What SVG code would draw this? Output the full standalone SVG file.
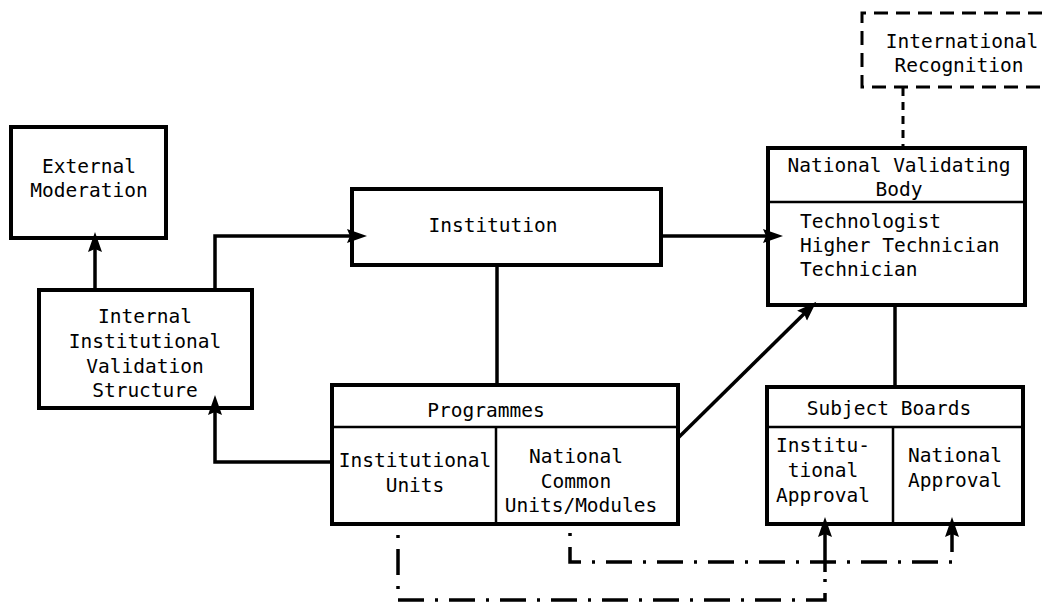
<svg xmlns="http://www.w3.org/2000/svg" width="1044" height="606" viewBox="0 0 1044 606">
  <style>
    .box { fill: #fff; stroke: #000; stroke-width: 4; }
    .div { fill: none; stroke: #000; stroke-width: 2.5; }
    .ln { fill: none; stroke: #000; stroke-width: 3.5; }
    .dash { fill: none; stroke: #000; stroke-width: 3; stroke-dasharray: 14 8; }
    .dd { fill: none; stroke: #000; stroke-width: 3.5; stroke-dasharray: 3 11 26 11; }
    text { font-family: "DejaVu Sans Mono", "Liberation Mono", monospace; font-size: 19.5px; fill: #000; }
    .c { text-anchor: middle; }
  </style>
  <defs>
    <marker id="arrow" markerUnits="userSpaceOnUse" markerWidth="22" markerHeight="16" refX="14" refY="7" orient="auto">
      <path d="M0,0 L20,7 L0,14 L3,7 z" fill="#000"/>
    </marker>
  </defs>

  <g id="external-moderation">
    <rect class="box" x="11" y="127" width="155" height="111"/>
    <text class="c" x="89" y="173">External</text>
    <text class="c" x="89" y="197">Moderation</text>
  </g>

  <g id="internal-validation">
    <rect class="box" x="39" y="290" width="213" height="118"/>
    <text class="c" x="145" y="323">Internal</text>
    <text class="c" x="145" y="348">Institutional</text>
    <text class="c" x="145" y="373">Validation</text>
    <text class="c" x="145" y="397">Structure</text>
  </g>

  <g id="institution">
    <rect class="box" x="352" y="189" width="309" height="76"/>
    <text class="c" x="493" y="232">Institution</text>
  </g>

  <g id="programmes">
    <rect class="box" x="332" y="385" width="346" height="139"/>
    <line class="div" x1="332" y1="427" x2="678" y2="427"/>
    <line class="div" x1="496" y1="427" x2="496" y2="524"/>
    <text class="c" x="486" y="417">Programmes</text>
    <text class="c" x="415" y="467">Institutional</text>
    <text class="c" x="415" y="492">Units</text>
    <text class="c" x="576" y="463">National</text>
    <text class="c" x="576" y="488">Common</text>
    <text class="c" x="581" y="512">Units/Modules</text>
  </g>

  <g id="national-validating-body">
    <rect class="box" x="768" y="148" width="257" height="157"/>
    <line class="div" x1="768" y1="202" x2="1025" y2="202"/>
    <text class="c" x="899" y="172">National Validating</text>
    <text class="c" x="899" y="196">Body</text>
    <text x="800" y="228">Technologist</text>
    <text x="800" y="252">Higher Technician</text>
    <text x="800" y="276">Technician</text>
  </g>

  <g id="international-recognition">
    <path class="dash" d="M1042,13 H862 V87 H1042"/>
    <text class="c" x="962" y="48">International</text>
    <text class="c" x="959" y="72">Recognition</text>
  </g>

  <g id="subject-boards">
    <rect class="box" x="767" y="387" width="256" height="137"/>
    <line class="div" x1="767" y1="427" x2="1023" y2="427"/>
    <line class="div" x1="893" y1="427" x2="893" y2="524"/>
    <text class="c" x="889" y="415">Subject Boards</text>
    <text class="c" x="823" y="452">Institu-</text>
    <text class="c" x="823" y="477">tional</text>
    <text class="c" x="823" y="502">Approval</text>
    <text class="c" x="955" y="462">National</text>
    <text class="c" x="955" y="487">Approval</text>
  </g>

  <!-- connectors, drawn last so arrowheads sit over the box borders -->
  <g id="connectors">
    <!-- internal validation -> external moderation -->
    <line class="ln" x1="95" y1="290" x2="95" y2="238" marker-end="url(#arrow)"/>
    <!-- internal validation -> institution -->
    <path class="ln" d="M215,290 V236 H361" marker-end="url(#arrow)"/>
    <!-- institution -> national validating body -->
    <line class="ln" x1="661" y1="236" x2="777" y2="236" marker-end="url(#arrow)"/>
    <!-- institution - programmes -->
    <line class="ln" x1="497" y1="265" x2="497" y2="385"/>
    <!-- institutional units -> internal validation -->
    <path class="ln" d="M332,462 H215 V401" marker-end="url(#arrow)"/>
    <!-- national common units -> national validating body -->
    <line class="ln" x1="678" y1="438" x2="812" y2="306" marker-end="url(#arrow)"/>
    <!-- national validating body - subject boards -->
    <line class="ln" x1="895" y1="305" x2="895" y2="387"/>
    <!-- national validating body - international recognition -->
    <line class="dash" x1="903" y1="88" x2="903" y2="148" style="stroke-dasharray: 8 6;"/>
    <!-- approval routes (dash-dot) -->
    <path class="dd" d="M398,535 V600 H825 V572"/>
    <line class="ln" x1="825" y1="572" x2="825" y2="523" marker-end="url(#arrow)"/>
    <path class="dd" d="M570,533 V562 H952"/>
    <line class="ln" x1="952" y1="552" x2="952" y2="523" marker-end="url(#arrow)"/>
  </g>
</svg>
